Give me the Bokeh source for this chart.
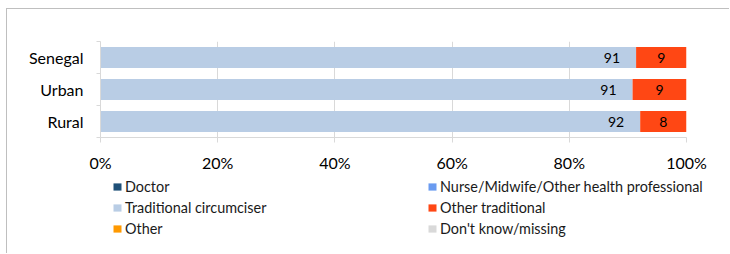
from bokeh.plotting import figure
from bokeh.layouts import column
from bokeh.models import (ColumnDataSource, FixedTicker, Legend, LegendItem,
                          LabelSet, Range1d, Column)
from bokeh.embed import file_html
from bokeh.resources import INLINE
from bokeh.core.properties import value

categories = ["Senegal", "Urban", "Rural"]
series = ["Doctor", "Nurse/Midwife/Other health professional",
          "Traditional circumciser", "Other traditional", "Other",
          "Don't know/missing"]
doctor = [0, 0, 0]
nurse = [0, 0, 0]
trad_circ = [91.4, 90.8, 92.1]
other_trad = [8.6, 9.2, 7.9]
other = [0, 0, 0]
dont_know = [0, 0, 0]
colors = ["#1f5078", "#6a9bf0", "#b9cde5", "#ff4714", "#ff9900", "#d9d9d9"]
x_ticks = [0, 20, 40, 60, 80, 100]
x_tick_labels = ["0%", "20%", "40%", "60%", "80%", "100%"]

FONT = "Lato"
n = len(categories)
ypos = [n - i - 0.5 for i in range(n)]
keys = ["doctor", "nurse", "trad_circ", "other_trad", "other", "dont_know"]
source = ColumnDataSource(dict(y=ypos, doctor=doctor, nurse=nurse,
                               trad_circ=trad_circ, other_trad=other_trad,
                               other=other, dont_know=dont_know))

p = figure(width=722, height=166, output_backend="svg", toolbar_location=None,
           x_range=Range1d(0, 100), y_range=Range1d(0, n),
           min_border_left=93, min_border_right=43, min_border_top=32,
           min_border_bottom=38, outline_line_color=None)

renderers = p.hbar_stack(keys, y="y", height=0.66, source=source,
                         fill_color=colors, line_color=None)

# data labels
blue_end = [d + nu + t for d, nu, t in zip(doctor, nurse, trad_circ)]
lab1 = ColumnDataSource(dict(x=blue_end, y=ypos,
                             t=[str(int(round(v))) for v in trad_circ]))
lab2 = ColumnDataSource(dict(x=[b + o / 2 for b, o in zip(blue_end, other_trad)], y=ypos,
                             t=[str(int(round(v))) for v in other_trad]))
p.add_layout(LabelSet(x="x", y="y", text="t", source=lab1, text_align="right",
                      text_baseline="middle", x_offset=-16,
                      text_font=value(FONT), text_font_size="14px",
                      text_color="#000000"))
p.add_layout(LabelSet(x="x", y="y", text="t", source=lab2, text_align="center",
                      text_baseline="middle",
                      text_font=value(FONT), text_font_size="14px",
                      text_color="#000000"))

# x axis
xa = p.xaxis[0]
xa.ticker = FixedTicker(ticks=x_ticks)
xa.major_label_overrides = {t: l for t, l in zip(x_ticks, x_tick_labels)}
xa.axis_line_color = "#d9d9d9"
xa.major_tick_line_color = "#d9d9d9"
xa.major_tick_out = 5
xa.major_tick_in = 0
xa.minor_tick_line_color = None
xa.major_label_standoff = 10
xa.major_label_text_font = FONT
xa.major_label_text_font_size = "16px"
xa.major_label_text_color = "#000000"

# y axis
ya = p.yaxis[0]
ya.ticker = FixedTicker(ticks=ypos, minor_ticks=list(range(n + 1)))
ya.major_label_overrides = {y: c for y, c in zip(ypos, categories)}
ya.axis_line_color = "#d9d9d9"
ya.major_tick_line_color = None
ya.major_tick_out = 0
ya.major_tick_in = 0
ya.minor_tick_line_color = "#d9d9d9"
ya.minor_tick_out = 4
ya.minor_tick_in = 0
ya.major_label_standoff = 13
ya.major_label_text_font = FONT
ya.major_label_text_font_size = "16px"
ya.major_label_text_color = "#000000"

p.xgrid.ticker = FixedTicker(ticks=x_ticks)
p.xgrid.grid_line_color = "#d9d9d9"
p.ygrid.grid_line_color = None

# legend panel (separate figure below the chart); its copies of the bars
# lie outside its visible range and serve only as legend swatches
lg = figure(width=722, height=78, output_backend="svg", toolbar_location=None,
            x_range=Range1d(0, 100), y_range=Range1d(100, 101),
            x_axis_location=None, y_axis_location=None,
            min_border_left=0, min_border_right=0, min_border_top=0,
            min_border_bottom=0, outline_line_color=None)
lg.grid.visible = False
proxies = lg.hbar_stack(keys, y="y", height=0.66, source=source,
                        fill_color=colors, line_color=None)

def make_legend(idx, x):
    return Legend(items=[LegendItem(label=series[i], renderers=[proxies[i]]) for i in idx],
                  location=(x, 16), orientation="vertical",
                  glyph_width=10, glyph_height=9, label_height=17, spacing=4,
                  label_standoff=3, padding=0, margin=0,
                  border_line_color=None, background_fill_alpha=0,
                  label_text_font=FONT, label_text_font_size="14.4px",
                  label_text_color="#1a1a1a")

lg.add_layout(make_legend([0, 2, 4], 105))
lg.add_layout(make_legend([1, 3, 5], 420))

layout = Column(children=[p, Column(children=[lg])], spacing=0)
layout.styles = {"border-left": "1px solid #bfbfbf", "border-top": "1px solid #bfbfbf",
                 "margin-left": "6px", "margin-top": "8px"}

open("out.html", "w").write(file_html(layout, INLINE))
